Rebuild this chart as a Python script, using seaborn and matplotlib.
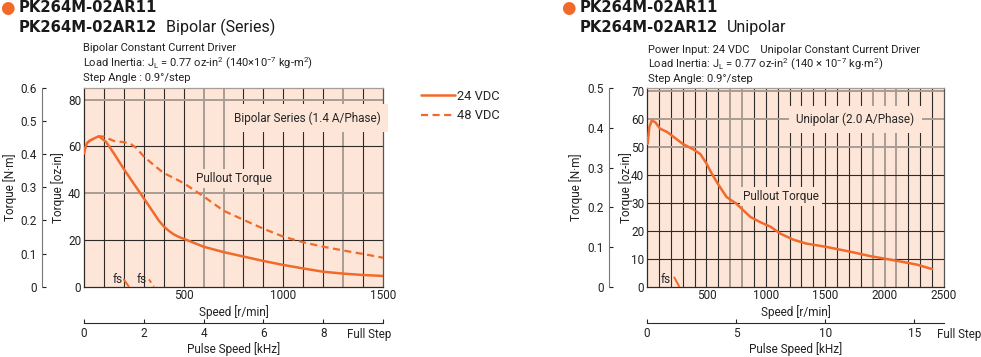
import numpy as np
import pandas as pd
import matplotlib
matplotlib.use("Agg")
import matplotlib.pyplot as plt
import seaborn as sns

sns.set_style("white")
plt.rcParams['font.family'] = ['Roboto', 'DejaVu Sans']
plt.rcParams['mathtext.fontset'] = 'custom'
plt.rcParams['mathtext.rm'] = 'Roboto'
plt.rcParams['mathtext.it'] = 'Roboto'

ORANGE = '#f26a2a'
BG = '#fde6d8'
DARK = '#2e2a28'
LIGHT = '#a89c94'
TXT = '#222222'
FS = 8.5
NM_PER_OZIN = 0.00706155

# --- Bipolar (Series) data, speed [r/min] vs torque [oz-in]
speed_24 = [0, 5, 15, 30, 60, 75, 110, 150, 200, 250, 300, 350, 375, 400, 425, 450, 475, 500,
            600, 700, 800, 900, 1000, 1100, 1200, 1300, 1400, 1500]
torque_24 = [57, 59, 61.4, 62.5, 63.8, 64.3, 62, 57, 50.3, 44, 37.8, 31.5, 28.3, 25.8, 23.9, 22.4, 21.3, 20.5,
             17.1, 14.8, 12.9, 11.0, 9.3, 7.8, 6.4, 5.6, 5.0, 4.6]
speed_48 = [0, 5, 15, 30, 60, 75, 100, 150, 200, 230, 260, 300, 350, 400, 450, 500,
            600, 700, 800, 900, 1000, 1100, 1200, 1300, 1400, 1500]
torque_48 = [57, 59, 61.4, 62.5, 63.8, 64.3, 64.2, 62.3, 61.8, 61.3, 59.5, 55.7, 52, 48.6, 46.5, 44.3,
             38.6, 32.5, 28.6, 24.8, 21.4, 19, 17.1, 15.5, 14.0, 12.4]
fs_24_speed = [200, 225]
fs_24_torque = [3.1, 0]
fs_48_speed = [326, 351]
fs_48_torque = [3.1, 0]

# --- Unipolar data
speed_uni = [5, 20, 40, 70, 110, 170, 220, 300, 390, 450, 500, 550, 600, 670, 750,
             870, 950, 1040, 1120, 1230, 1340, 1510, 1710, 1880, 2070, 2270, 2400]
torque_uni = [51, 57, 59.3, 58.7, 56.4, 55.2, 53.6, 51, 49, 47.3, 44, 40, 36.5, 32, 29.7,
              24.9, 23.1, 21.4, 19, 16.8, 15.4, 14.2, 12.5, 10.9, 9.5, 7.9, 6.3]
fs_uni_speed = [230, 272]
fs_uni_torque = [3.3, 0]

left_light_v = [600, 700, 1300]
left_light_h = [40, 80]
right_light_v = [700, 800, 1900, 2000, 2100]
right_light_h = [50, 60, 70]

W, H = 981, 357
fig = plt.figure(figsize=(9.81, 3.57), dpi=100)


def px(x, y):
    return x / W, 1 - y / H


def setup_axes(rect, xmax, ymax_nm, yticks, xticks, light_v, light_h,
               nm_loc, oz_lab_x, nm_lab_x, fullstep_x):
    ax = fig.add_axes(rect)
    ymax = ymax_nm / NM_PER_OZIN
    ax.set_facecolor(BG)
    ax.set_xlim(0, xmax)
    ax.set_ylim(0, ymax)
    for v in range(100, int(xmax), 100):
        ax.axvline(v, color=LIGHT if v in light_v else DARK,
                   lw=1.4 if v in light_v else 0.8, zorder=1)
    for h in yticks[1:]:
        ax.axhline(h, color=LIGHT if h in light_h else DARK,
                   lw=1.4 if h in light_h else 0.8, zorder=1)
    for s in ax.spines.values():
        s.set_color(DARK)
        s.set_linewidth(0.9)
    ax.spines['top'].set_color(LIGHT)
    ax.spines['right'].set_color('#555555')
    ax.set_yticks(yticks)
    ax.set_xticks(xticks)
    ax.tick_params(length=0, labelsize=FS, colors=TXT, pad=2)
    ax.set_ylabel('Torque [oz-in]', fontsize=FS, color=TXT)
    ax.yaxis.set_label_coords(oz_lab_x, 0.5)
    ax.set_xlabel('Speed [r/min]', fontsize=FS, color=TXT)
    ax.xaxis.set_label_coords(0.5, -0.092)

    # N·m axis
    nm = ax.secondary_yaxis(nm_loc, functions=(lambda t: t * NM_PER_OZIN,
                                               lambda t: t / NM_PER_OZIN))
    nm_ticks = list(np.round(np.arange(0, ymax_nm + 0.01, 0.1), 1))
    nm.set_yticks(nm_ticks, ['0' if t == 0 else f'{t:.1f}' for t in nm_ticks])
    nm.tick_params(direction='in', length=3, labelsize=FS, colors=TXT, pad=4)
    nm.spines['left'].set_color('#777777')
    nm.set_ylabel('Torque [N·m]', fontsize=FS, color=TXT)
    nm.yaxis.set_label_coords(nm_lab_x, 0.5, transform=ax.transAxes)

    # pulse speed axis
    ps = ax.secondary_xaxis(-0.184, functions=(lambda r: r / 150, lambda k: k * 150))
    ps.tick_params(direction='in', length=3, labelsize=FS, colors=TXT, pad=3)
    ps.spines['bottom'].set_color(DARK)
    ps.set_xlabel('Pulse Speed [kHz]', fontsize=FS, color=TXT)
    ps.xaxis.set_label_coords(0.5, -0.279, transform=ax.transAxes)
    ax.text(fullstep_x, -0.243, 'Full Step', transform=ax.transAxes, ha='center',
            va='center', fontsize=FS - 0.2, color=TXT)
    return ax, ps


box = dict(boxstyle='square,pad=0.6', fc=BG, ec='none')
box_small = dict(boxstyle='square,pad=0.25', fc=BG, ec='none')

# ---------------- left chart
axL, psL = setup_axes([84 / W, 1 - 286.7 / H, 299 / W, 198.7 / H], 1500, 0.6,
                      [0, 20, 40, 60, 80], [500, 1000, 1500], left_light_v, left_light_h,
                      -42 / 299, -0.064, -0.224, 0.955)
psL.set_xticks([0, 2, 4, 6, 8, 10], ['0', '2', '4', '6', '8', ''])

sns.lineplot(x=speed_24, y=torque_24, ax=axL, color=ORANGE, lw=1.8, label='24 VDC', zorder=4)
sns.lineplot(x=speed_48, y=torque_48, ax=axL, color=ORANGE, lw=1.6, linestyle=(0, (3.2, 2)),
             label='48 VDC', zorder=4)
sns.lineplot(x=fs_24_speed, y=fs_24_torque, ax=axL, color=ORANGE, lw=1.4, zorder=4)
sns.lineplot(x=fs_48_speed, y=fs_48_torque, ax=axL, color=ORANGE, lw=1.4,
             linestyle=(0, (2, 2)), zorder=4)
axL.text(170, 3.1, 'fs', ha='center', va='center', fontsize=FS, zorder=3)
axL.text(288, 3.1, 'fs', ha='center', va='center', fontsize=FS, zorder=3)
axL.text(1122, 72.2, 'Bipolar Series (1.4 A/Phase)', ha='center', va='center',
         fontsize=FS, bbox=box, zorder=3)
axL.text(752, 46.4, 'Pullout Torque', ha='center', va='center', fontsize=FS,
         bbox=box_small, zorder=3)

handles, labels = axL.get_legend_handles_labels()
axL.get_legend().remove()
fig.legend(handles, labels, loc='upper left', bbox_to_anchor=px(421, 90), frameon=False,
           fontsize=9.3, handlelength=2.6, handletextpad=0.2, borderpad=0,
           borderaxespad=0, labelspacing=0.5)

# ---------------- right chart
axR, psR = setup_axes([647 / W, 1 - 286.7 / H, 297 / W, 198.4 / H], 2500, 0.5,
                      [0, 10, 20, 30, 40, 50, 60, 70], [500, 1000, 1500, 2000, 2500],
                      right_light_v, right_light_h, -38 / 297, -0.047, -0.216, 1.052)
psR.set_xticks([0, 5, 10, 15])

sns.lineplot(x=speed_uni, y=torque_uni, ax=axR, color=ORANGE, lw=1.8, zorder=4)
sns.lineplot(x=fs_uni_speed, y=fs_uni_torque, ax=axR, color=ORANGE, lw=1.4, zorder=4)
axR.text(157, 2.4, 'fs', ha='center', va='center', fontsize=FS, zorder=3)
axR.text(1755, 59.7, 'Unipolar (2.0 A/Phase)', ha='center', va='center',
         fontsize=FS, bbox=box, zorder=3)
axR.text(1128, 32.3, 'Pullout Torque', ha='center', va='center', fontsize=FS,
         bbox=box_small, zorder=3)

# ---------------- headers
bold = dict(fontsize=10.7, fontweight='bold', family='DejaVu Sans', va='center', color='#1a1a1a')
for x0, x1, name in [(7, 19, 'Bipolar (Series)'), (568, 580, 'Unipolar')]:
    fig.text(*px(x0, 8), '●', color=ORANGE, fontsize=12, ha='center', va='center',
             family='DejaVu Sans')
    fig.text(*px(x1, 8), 'PK264M-02AR11', **bold)
    fig.text(*px(x1, 27), 'PK264M-02AR12', **bold)
    fig.text(*px(x1 + 147, 27.5), name, fontsize=11.5, va='center', color='#1a1a1a')

small = dict(fontsize=8.0, va='center', color=TXT)
fig.text(*px(83, 48), 'Bipolar Constant Current Driver', **small)
fig.text(*px(83, 63), r'Load Inertia: J$_\mathrm{L}$ = 0.77 oz-in$^2$ (140$\times$10$^{-7}$ kg-m$^2$)', **small)
fig.text(*px(83, 78), 'Step Angle : 0.9°/step', **small)
fig.text(*px(648, 50), 'Power Input: 24 VDC    Unipolar Constant Current Driver', **small)
fig.text(*px(648, 64), r'Load Inertia: J$_\mathrm{L}$ = 0.77 oz-in$^2$ (140 $\times$ 10$^{-7}$ kg$\cdot$m$^2$)', **small)
fig.text(*px(648, 79), 'Step Angle: 0.9°/step', **small)

fig.savefig('out.png', dpi=100, facecolor='white')
